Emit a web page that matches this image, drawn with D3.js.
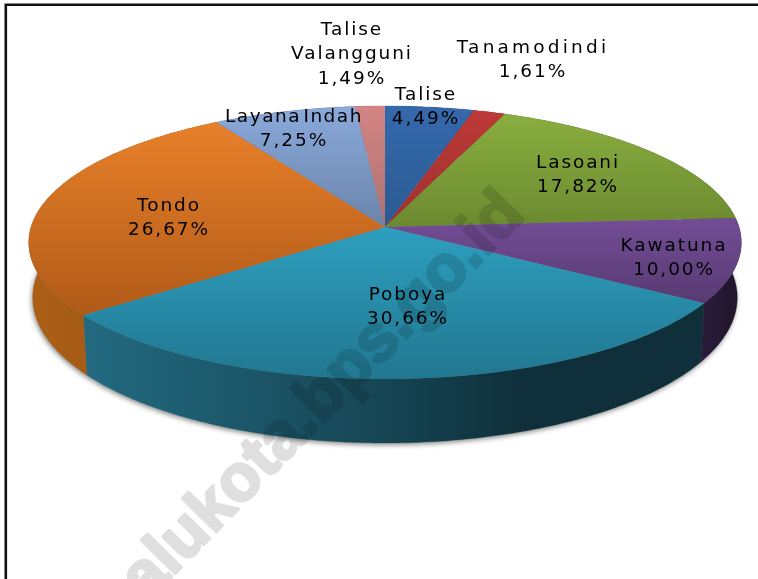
<!DOCTYPE html>
<html><head><meta charset="utf-8">
<script src="https://cdn.jsdelivr.net/npm/d3@7"></script>
<style>html,body{margin:0;padding:0;background:#fff;overflow:hidden}svg{display:block}</style>
</head><body><script>
const categories=["Talise","Tanamodindi","Lasoani","Kawatuna","Poboya","Tondo","Layana Indah","Talise Valangguni"];
const values=[4.49,1.61,17.82,10.00,30.66,26.67,7.25,1.49];
const valueLabels=["4,49%","1,61%","17,82%","10,00%","30,66%","26,67%","7,25%","1,49%"];
const topColors=["#3569ad","#bd3a38","#8aae3f","#734d96","#2e9fbf","#e8802a","#8aaadb","#d48584"];
const bottomColors=["#2a5a92","#9e2f2e","#6b8a30","#573a72","#217790","#b05a18","#6a84aa","#a97271"];
const sideLeft=["#1f4270","#6e2020","#4d6322","#2a1c3a","#226a80","#ad5f17","#4f6380","#7a5352"];
const sideMid=["#1f4270","#6e2020","#4d6322","#261934","#174858","#a05914","#4f6380","#7a5352"];
const sideRight=["#1f4270","#6e2020","#4d6322","#21162e","#0f303b","#96530f","#4f6380","#7a5352"];
const labelLines=[["Talise"],["Tanamodindi"],["Lasoani"],["Kawatuna"],["Poboya"],["Tondo"],["Layana Indah"],["Talise","Valangguni"]];
const labelX=[426,533,578,674,408,169,294,352];
const labelY=[94,47,162,245,294,205,116,29];
const watermark="palukota.bps.go.id";

const W=758,H=579;
const svg=d3.select("body").append("svg").attr("width",W).attr("height",H);
const defs=svg.append("defs");
const cx=385,cy=227;
const k=0.1136,A=354,B=134.7;
const depth=54,B2=143.6,A2=350;
// perspective projection of the unit disc onto the page
const project=(a,top)=>{const x=Math.sin(a),y=-Math.cos(a),s=1/(1-k*y);
  return top?[cx+A*x*s,cy+B*y*s]:[cx+A2*x*s,cy+depth+B2*y*s];};
const pie=d3.pie().sort(null).value(d=>d).startAngle(0).endAngle(2*Math.PI);
const arcs=pie(values);
const arcAngles=(d)=>{const n=Math.max(4,Math.ceil((d.endAngle-d.startAngle)/0.01));
  return d3.range(n+1).map(i=>d.startAngle+(d.endAngle-d.startAngle)*i/n);};
const line=d3.line();

const soft=defs.append("filter").attr("id","shadow").attr("x","-10%").attr("y","-10%").attr("width","120%").attr("height","120%");
soft.append("feGaussianBlur").attr("stdDeviation",2.6);
const textSoft=defs.append("filter").attr("id","textsoft").attr("x","-5%").attr("y","-10%").attr("width","110%").attr("height","120%");
textSoft.append("feGaussianBlur").attr("stdDeviation",0.4);

arcs.forEach((d,i)=>{
  const g=defs.append("linearGradient").attr("id","top"+i).attr("x1",0).attr("y1",0).attr("x2",0).attr("y2",1);
  g.append("stop").attr("offset",0).attr("stop-color",topColors[i]);
  g.append("stop").attr("offset",1).attr("stop-color",bottomColors[i]);
  const s=defs.append("linearGradient").attr("id","side"+i).attr("x1",0).attr("y1",0).attr("x2",1).attr("y2",0);
  s.append("stop").attr("offset",0).attr("stop-color",sideLeft[i]);
  s.append("stop").attr("offset",.45).attr("stop-color",sideMid[i]);
  s.append("stop").attr("offset",.7).attr("stop-color",sideRight[i]);
  s.append("stop").attr("offset",1).attr("stop-color",sideRight[i]);
});

// frame: only the top and left edges are visible
svg.append("path").attr("fill","none").attr("stroke","#111").attr("stroke-width",2.6)
  .attr("stroke-linejoin","miter")
  .attr("d",line([[5.8,H+2],[5.8,4.7],[W+2,4.7]]));

// soft shadow below the disc
const all=d3.range(0,2*Math.PI,0.01);
svg.append("path").attr("fill","#555").attr("opacity",.7).attr("filter","url(#shadow)")
  .attr("transform","translate(-1,2)")
  .attr("d",line(all.map(a=>project(a,false)))+"Z");

// sides
svg.append("g").selectAll("path").data(arcs).join("path")
  .attr("fill",(d,i)=>`url(#side${i})`)
  .attr("stroke",(d,i)=>`url(#side${i})`).attr("stroke-width",.3)
  .attr("d",d=>{const as=arcAngles(d);
    return line([...as.map(a=>project(a,true)),...as.slice().reverse().map(a=>project(a,false))])+"Z";});

// top faces
svg.append("g").selectAll("path").data(arcs).join("path")
  .attr("fill",(d,i)=>`url(#top${i})`)
  .attr("d",d=>line([[cx,cy],...arcAngles(d).map(a=>project(a,true))])+"Z");

// labels
const lab=svg.append("g").attr("font-family","'DejaVu Sans',sans-serif").attr("font-size",18.5)
  .attr("letter-spacing",1.9).attr("text-anchor","middle").attr("fill","#000").attr("filter","url(#textsoft)");
categories.forEach((c,i)=>{
  const t=lab.append("text");
  [...labelLines[i],valueLabels[i]].forEach((s,j)=>{
    const sp=t.append("tspan").attr("x",labelX[i]).attr("y",labelY[i]+6+j*24.4).text(s);
    if(s==="Tanamodindi") sp.attr("letter-spacing",3.2);
    if(s==="Layana Indah") sp.attr("word-spacing",-5).attr("letter-spacing",1.5);
  });
});

// watermark
svg.append("text").attr("transform","translate(118,632) rotate(-45.5)")
  .attr("font-family","'Liberation Sans',sans-serif").attr("font-weight",700).attr("font-size",66)
  .attr("fill","#000").attr("stroke","#000").attr("stroke-width",3).attr("stroke-linejoin","round")
  .attr("opacity",.12).text(watermark);
</script></body></html>
